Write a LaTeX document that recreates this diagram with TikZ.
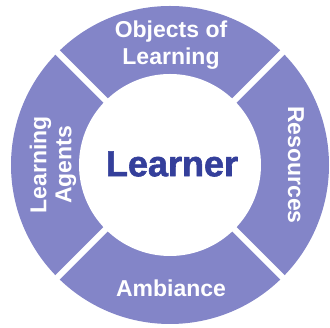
\documentclass[tikz,border=0pt]{standalone}
\usepackage{fontspec}
\setmainfont{Liberation Sans}
\newfontface\heavyfont{Liberation Sans Bold}[FakeBold=1.6]
\definecolor{ringblue}{RGB}{131,133,200}
\definecolor{learnerblue}{RGB}{52,63,155}
\begin{document}
\begin{tikzpicture}[x=1pt,y=1pt]
    \tikzstyle{ringtext}=[text=white,font=\fontsize{23}{27}\selectfont\bfseries,align=center,inner sep=0pt]
    \useasboundingbox (0,0) rectangle (330,328);

    % ring cut into four parts by white gaps
    \coordinate (C) at (170,163);
    \fill[ringblue] (C) circle (159);
    \fill[white] (C) circle (91);
    \foreach \a in {45,135,225,315}
    \draw[white,line width=6pt] (C) -- ++(\a:165);

    \node[ringtext] (objects) at (171,283) {Objects of\\Learning};
    \node[ringtext] (ambiance) at (171,40) {Ambiance};
    \node[ringtext,rotate=-90] (resources) at (296,163) {Resources};
    \node[ringtext,rotate=90,font=\fontsize{23}{25}\selectfont\bfseries] (agents) at (53,163) {Learning\\Agents};

    \node[text=learnerblue,font=\fontsize{36}{40}\selectfont\heavyfont,inner sep=0pt] (learner) at (172,164) {Learner};
\end{tikzpicture}
\end{document}
